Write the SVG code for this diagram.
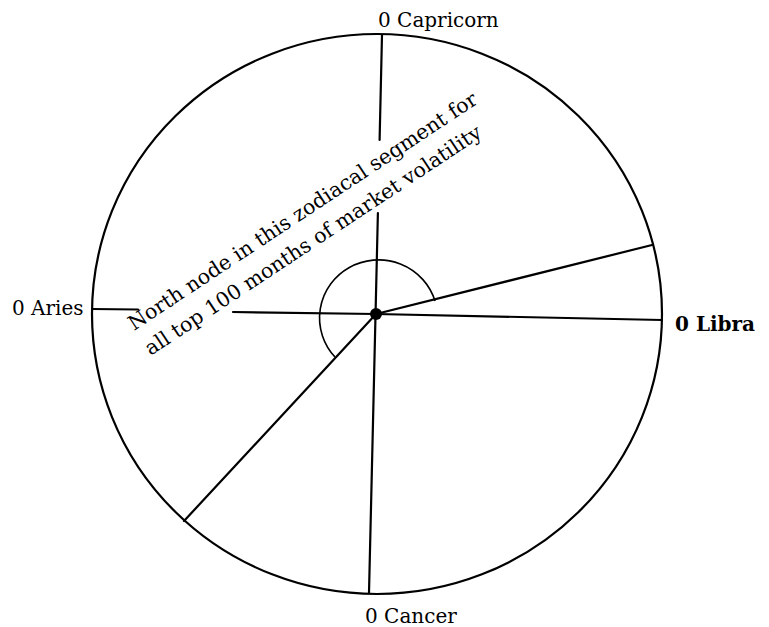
<svg xmlns="http://www.w3.org/2000/svg" width="769" height="627" viewBox="0 0 769 627">
<style>
.ln{stroke:#000;stroke-width:2.2;fill:none;stroke-linecap:round}
.thin{stroke:#000;stroke-width:1.6;fill:none}
.lbl{font-family:"DejaVu Serif","Liberation Serif",serif;font-size:20px;fill:#000}
.note{font-family:"DejaVu Serif","Liberation Serif",serif;font-size:20.5px;fill:#000}
</style>
<rect width="769" height="627" fill="#fff"/>
<g id="wheel">
<ellipse class="ln" cx="377" cy="314" rx="285" ry="280"/>
</g>
<g id="connectors">
<line class="ln" x1="382" y1="35" x2="379.6" y2="140"/>
<line class="ln" x1="377.9" y1="213" x2="369" y2="593"/>
<line class="ln" x1="92" y1="309" x2="138" y2="309.5"/>
<line class="ln" x1="233" y1="312" x2="376" y2="314"/>
<line class="ln" x1="376" y1="314" x2="662" y2="320"/>
<line class="ln" x1="376" y1="314" x2="652" y2="245"/>
<line class="ln" x1="376" y1="314" x2="184" y2="521"/>
<path class="thin" d="M 435 301 A 59 58 0 1 0 335 357"/>
</g>
<g id="node-center">
<circle cx="376" cy="314" r="6" fill="#000"/>
</g>
<g id="label-capricorn"><text class="lbl" x="378" y="27">0 Capricorn</text></g>
<g id="label-aries"><text class="lbl" x="12" y="315">0 Aries</text></g>
<g id="label-libra"><text class="lbl" x="675" y="331" font-weight="bold" font-size="19.5">0 Libra</text></g>
<g id="label-cancer"><text class="lbl" x="365" y="623">0 Cancer</text></g>
<g id="note" transform="translate(134,331) rotate(-33.5)">
<text class="note" x="0" y="0">North node in this zodiacal segment for</text>
<text class="note" x="0" y="30">all top 100 months of market volatility</text>
</g>
</svg>
